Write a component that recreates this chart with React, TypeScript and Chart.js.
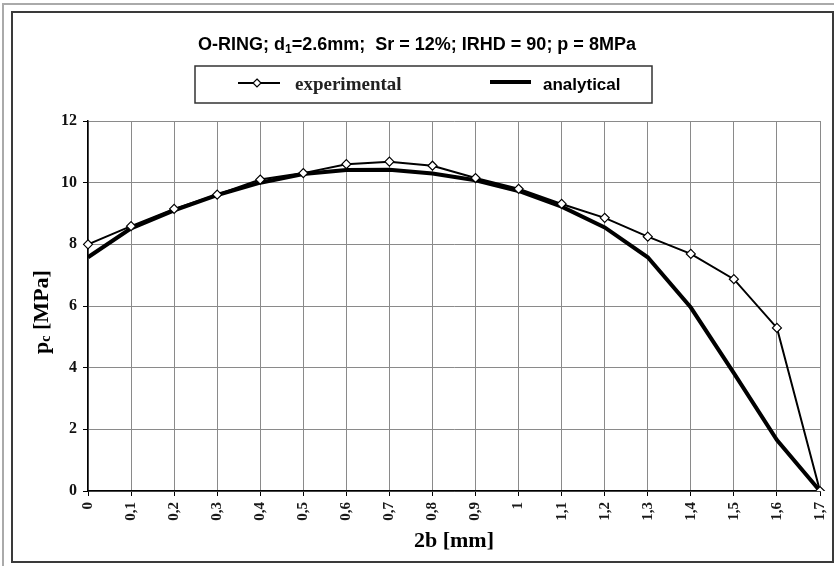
import React, { useEffect, useRef } from 'react';
import { Chart, registerables } from 'chart.js';

Chart.register(...registerables);

const categories = ['0', '0,1', '0,2', '0,3', '0,4', '0,5', '0,6', '0,7', '0,8', '0,9', '1', '1,1', '1,2', '1,3', '1,4', '1,5', '1,6', '1,7'];
const experimental = [8.0, 8.59, 9.15, 9.61, 10.1, 10.31, 10.6, 10.68, 10.55, 10.15, 9.8, 9.31, 8.86, 8.25, 7.69, 6.87, 5.29, 0];
const analytical = [7.58, 8.52, 9.1, 9.6, 10.0, 10.28, 10.41, 10.42, 10.3, 10.08, 9.73, 9.22, 8.55, 7.58, 5.95, 3.82, 1.65, 0];
const yMin = 0;
const yMax = 12;
const yStep = 2;

const SERIF = "'Liberation Serif', 'Times New Roman', serif";
const SANS = "'Liberation Sans', Arial, sans-serif";

type Seg = { t: string; font: string; dy?: number };

function drawSegs(ctx: CanvasRenderingContext2D, segs: Seg[], cx: number, y: number) {
  let total = 0;
  for (const s of segs) {
    ctx.font = s.font;
    total += ctx.measureText(s.t).width;
  }
  let x = cx - total / 2;
  ctx.textAlign = 'left';
  ctx.textBaseline = 'alphabetic';
  for (const s of segs) {
    ctx.font = s.font;
    ctx.fillText(s.t, x, y + (s.dy || 0));
    x += ctx.measureText(s.t).width;
  }
}

const decor = {
  id: 'decor',
  beforeDraw(chart: any) {
    const ctx = chart.ctx as CanvasRenderingContext2D;
    ctx.save();
    ctx.fillStyle = '#ffffff';
    ctx.fillRect(0, 0, chart.width, chart.height);
    ctx.strokeStyle = '#aaaaaa';
    ctx.lineWidth = 2;
    ctx.beginPath();
    ctx.moveTo(3, chart.height);
    ctx.lineTo(3, 4);
    ctx.lineTo(chart.width, 4);
    ctx.stroke();
    ctx.strokeStyle = '#3a3a3a';
    ctx.lineWidth = 2;
    ctx.strokeRect(12, 12, 821, 550);
    ctx.restore();
  },
  afterDraw(chart: any) {
    const ctx = chart.ctx as CanvasRenderingContext2D;
    const area = chart.chartArea;
    ctx.save();
    ctx.fillStyle = '#000';
    // title
    drawSegs(ctx, [
      { t: 'O-RING; d', font: `bold 18px ${SANS}` },
      { t: '1', font: `bold 12px ${SANS}`, dy: 3 },
      { t: '=2.6mm;  Sr = 12%; IRHD = 90; p = 8MPa', font: `bold 18px ${SANS}` },
    ], 417, 50);

    // legend box
    ctx.strokeStyle = '#333';
    ctx.lineWidth = 1.5;
    ctx.strokeRect(195, 66, 457, 37);
    // experimental sample
    ctx.strokeStyle = '#000';
    ctx.lineWidth = 2;
    ctx.beginPath();
    ctx.moveTo(238, 83);
    ctx.lineTo(280, 83);
    ctx.stroke();
    ctx.fillStyle = '#fff';
    ctx.lineWidth = 1.2;
    ctx.beginPath();
    ctx.moveTo(257, 79);
    ctx.lineTo(261, 83);
    ctx.lineTo(257, 87);
    ctx.lineTo(253, 83);
    ctx.closePath();
    ctx.fill();
    ctx.stroke();
    ctx.fillStyle = '#222';
    ctx.font = `bold 19px ${SERIF}`;
    ctx.textAlign = 'left';
    ctx.textBaseline = 'alphabetic';
    ctx.fillText('experimental', 295, 90);
    // analytical sample
    ctx.strokeStyle = '#000';
    ctx.lineWidth = 4;
    ctx.beginPath();
    ctx.moveTo(490, 82);
    ctx.lineTo(531, 82);
    ctx.stroke();
    ctx.fillStyle = '#000';
    ctx.font = `bold 17px ${SANS}`;
    ctx.fillText('analytical', 543, 90);

    // x title
    ctx.fillStyle = '#000';
    ctx.font = `bold 22px ${SERIF}`;
    ctx.textAlign = 'center';
    ctx.fillText('2b [mm]', (area.left + area.right) / 2, 547);

    // y title
    ctx.translate(48, (area.top + area.bottom) / 2 + 6);
    ctx.rotate(-Math.PI / 2);
    drawSegs(ctx, [
      { t: 'p', font: `bold 22px ${SERIF}` },
      { t: 'c', font: `bold 14px ${SERIF}`, dy: 2 },
      { t: ' [MPa]', font: `bold 22px ${SERIF}` },
    ], 0, 0);
    ctx.restore();
  },
};

export default function App() {
  const ref = useRef<HTMLCanvasElement | null>(null);
  useEffect(() => {
    if (!ref.current) return;
    const chart = new Chart(ref.current, {
      type: 'line',
      data: {
        labels: categories,
        datasets: [
          {
            label: 'experimental',
            data: experimental,
            borderColor: '#000',
            borderWidth: 2,
            pointStyle: 'rectRot',
            pointRadius: 4.5,
            pointBackgroundColor: '#fff',
            pointBorderColor: '#000',
            pointBorderWidth: 1.2,
            tension: 0,
            order: 0,
          },
          {
            label: 'analytical',
            data: analytical,
            borderColor: '#000',
            borderWidth: 4,
            pointRadius: 0,
            tension: 0,
            order: 1,
          },
        ],
      },
      options: {
        animation: false,
        responsive: false,
        devicePixelRatio: 1,
        layout: { padding: { top: 121, right: 14, left: 0, bottom: 0 } },
        plugins: {
          legend: { display: false },
          title: { display: false },
          tooltip: { enabled: false },
        },
        scales: {
          x: {
            type: 'category',
            offset: false,
            grid: { color: '#8a8a8a', lineWidth: 1, tickLength: 5, tickColor: '#000' },
            border: { color: '#000', width: 1.5 },
            ticks: {
              color: '#1a1a1a',
              font: { family: SERIF, weight: 'bold', size: 15 },
              minRotation: 90,
              maxRotation: 90,
              padding: 6,
              autoSkip: false,
            },
            afterFit: (s: any) => { s.height = 75; s.paddingLeft = 0; s.paddingRight = 0; },
          },
          y: {
            min: yMin,
            max: yMax,
            grid: { color: '#8a8a8a', lineWidth: 1, tickLength: 5, tickColor: '#000' },
            border: { color: '#000', width: 1.5 },
            ticks: {
              stepSize: yStep,
              color: '#111',
              font: { family: SERIF, weight: 'bold', size: 16 },
              padding: 6,
            },
            afterFit: (s: any) => { s.width = 88; s.paddingTop = 0; s.paddingBottom = 0; },
          },
        },
      },
      plugins: [decor],
    } as any);
    return () => chart.destroy();
  }, []);
  return (
    <div style={{ position: 'fixed', left: 0, top: 0, width: 834, height: 566 }}>
      <canvas ref={ref} width={834} height={566} style={{ display: 'block' }} />
    </div>
  );
}
